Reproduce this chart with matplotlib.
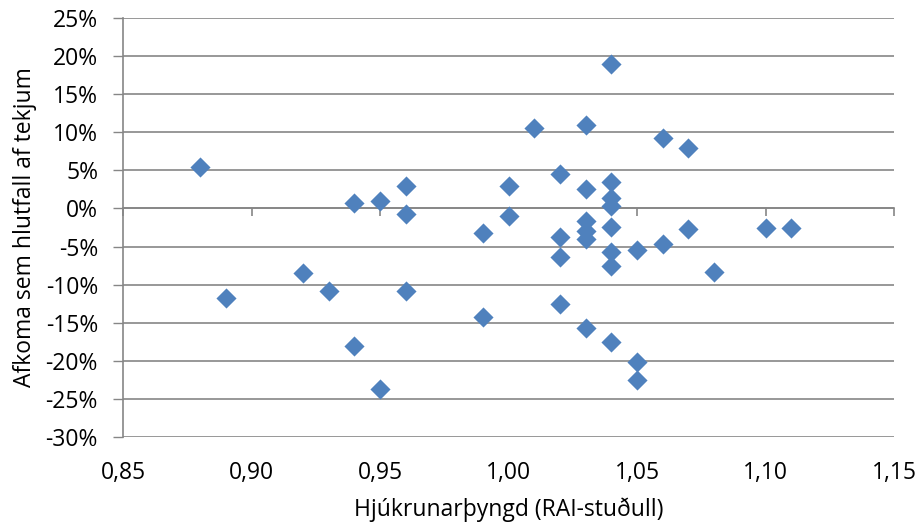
import numpy as np
import matplotlib
matplotlib.use("Agg")
import matplotlib.pyplot as plt

plt.rcParams['font.family'] = ['Open Sans', 'DejaVu Sans']
plt.rcParams['axes.unicode_minus'] = False

# RAI index (x) and margin as share of revenue in % (y)
rai = [0.88, 0.89, 0.92, 0.93, 0.94, 0.94, 0.95, 0.95,
       0.96, 0.96, 0.96, 0.99, 0.99, 1.00, 1.00, 1.01,
       1.02, 1.02, 1.02, 1.02,
       1.03, 1.03, 1.03, 1.03, 1.03, 1.03,
       1.04, 1.04, 1.04, 1.04, 1.04, 1.04, 1.04, 1.04,
       1.05, 1.05, 1.05, 1.06, 1.06, 1.07, 1.07,
       1.08, 1.10, 1.11]
afkoma = [5.4, -11.8, -8.5, -10.8, 0.7, -18.0, 1.0, -23.7,
          2.9, -0.7, -10.8, -3.2, -14.2, 2.9, -1.0, 10.5,
          4.5, -3.7, -6.4, -12.6,
          10.9, 2.5, -1.6, -2.9, -4.0, -15.7,
          18.9, 3.5, 1.4, 0.3, -2.4, -5.7, -7.6, -17.5,
          -5.4, -20.2, -22.5, 9.2, -4.7, 8.0, -2.7,
          -8.4, -2.6, -2.6]

x_ticks = [0.85, 0.90, 0.95, 1.00, 1.05, 1.10, 1.15]
x_labels = ["0,85", "0,90", "0,95", "1,00", "1,05", "1,10", "1,15"]
y_ticks = [25, 20, 15, 10, 5, 0, -5, -10, -15, -20, -25, -30]
y_labels = ["25%", "20%", "15%", "10%", "5%", "0%", "-5%", "-10%",
            "-15%", "-20%", "-25%", "-30%"]

grey = "#868686"
blue = "#4F81BD"
fs = 16.5

fig = plt.figure(figsize=(9.17, 5.26), dpi=100)
ax = fig.add_axes([123/917, 1 - 437/526, (894 - 123)/917, (437 - 18)/526])

ax.scatter(rai, afkoma, marker='D', s=105, color=blue, zorder=3, linewidths=0)

ax.set_xlim(0.85, 1.15)
ax.set_ylim(-30, 25)

ax.set_yticks(y_ticks)
ax.set_yticklabels(y_labels)
ax.yaxis.grid(True, color=grey, linewidth=1.2)
ax.tick_params(axis='y', length=7, width=1, color=grey, pad=11, labelsize=fs)

# x axis line crosses at y=0, ticks there, labels at bottom
ax.spines['bottom'].set_position(('data', 0))
ax.spines['bottom'].set_color(grey)
ax.spines['bottom'].set_linewidth(1.2)
ax.set_xticks(x_ticks)
ax.tick_params(axis='x', length=6, width=1.2, color=grey, labelbottom=False)
ax.spines['left'].set_color(grey)
ax.spines['left'].set_linewidth(1.2)
ax.spines['top'].set_visible(False)
ax.spines['right'].set_visible(False)

sec = ax.secondary_xaxis(location=0)
sec.set_xticks(x_ticks)
sec.set_xticklabels(x_labels)
sec.tick_params(length=0, pad=17, labelsize=fs)
sec.spines['bottom'].set_visible(False)
sec.set_xlabel("Hjúkrunarþyngd (RAI-stuðull)", fontsize=fs, labelpad=9)

ax.set_ylabel("Afkoma sem hlutfall af tekjum", fontsize=fs, labelpad=6)

fig.savefig("out.png", dpi=100)
